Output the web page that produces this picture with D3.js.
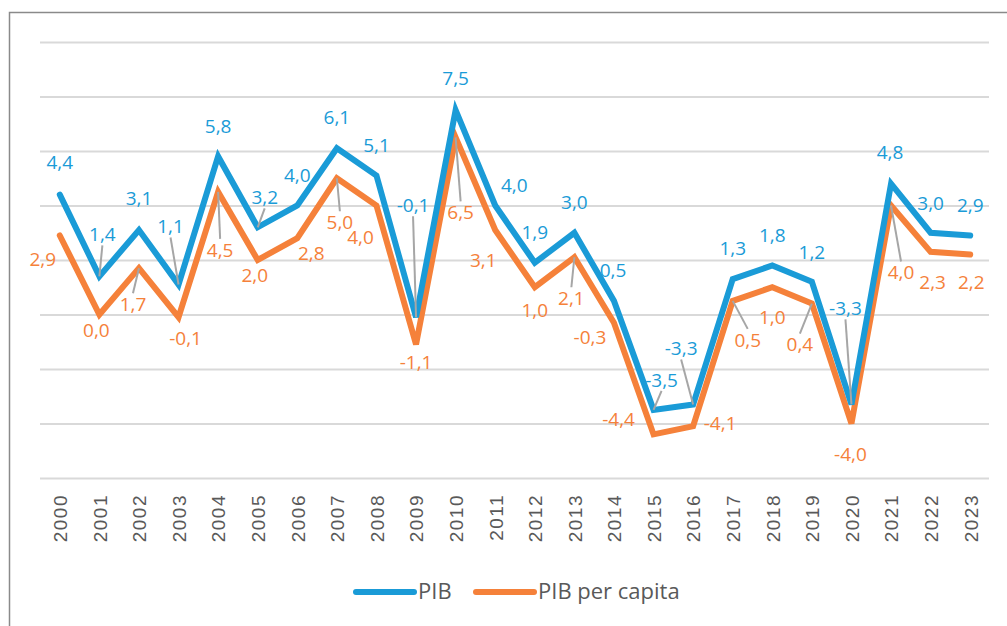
<!DOCTYPE html>
<html>
<head>
<meta charset="utf-8">
<script src="https://cdn.jsdelivr.net/npm/d3@7/dist/d3.min.js"></script>
<style>
  html, body { margin: 0; padding: 0; background: #fff; }
  svg { display: block; font-family: "Open Sans", "Noto Sans", sans-serif; }
</style>
</head>
<body>
<svg id="chart" width="1007" height="626"></svg>
<script>
// data
var years = ['2000', '2001', '2002', '2003', '2004', '2005', '2006', '2007', '2008', '2009', '2010', '2011',
  '2012', '2013', '2014', '2015', '2016', '2017', '2018', '2019', '2020', '2021', '2022', '2023'];
var pib = [4.4, 1.4, 3.1, 1.1, 5.8, 3.2, 4.0, 6.1, 5.1, -0.1, 7.5, 4.0,
  1.9, 3.0, 0.5, -3.5, -3.3, 1.3, 1.8, 1.2, -3.3, 4.8, 3.0, 2.9];
var pibPerCapita = [2.9, 0.0, 1.7, -0.1, 4.5, 2.0, 2.8, 5.0, 4.0, -1.1, 6.5, 3.1,
  1.0, 2.1, -0.3, -4.4, -4.1, 0.5, 1.0, 0.4, -4.0, 4.0, 2.3, 2.2];
var gridValues = [-6, -4, -2, 0, 2, 4, 6, 8, 10];
var seriesNames = ['PIB', 'PIB per capita'];

// label placement (dx, dy from the point to the label centre, leader line?)
var pibLabelPos = [
  [0, -32, 0], [3, -42, 1], [0, -32, 0], [-8, -58, 1], [0, -30, 0], [7, -30, 1],
  [0, -30, 0], [0, -31, 0], [0, -30, 0], [-3, -112, 1], [0, -32, 0], [19, -20, 0],
  [0, -31, 0], [0, -31, 0], [-1, -31, 0], [8, -30, 1], [-12, -56, 1], [0, -31, 0],
  [0, -30, 0], [0, -30, 0], [-6, -96, 1], [-1, -32, 0], [0, -30, 0], [0, -30, 0]
];
var pcLabelPos = [
  [-17, 24, 0], [-3, 16, 0], [-6, 36, 1], [7, 21, 0], [2, 58, 1], [-3, 15, 0],
  [14, 15, 0], [3, 44, 1], [-16, 32, 0], [0, 18, 0], [5, 75, 1], [-12, 30, 0],
  [0, 23, 0], [-3, 41, 1], [-24, 14, 0], [-35, -15, 0], [27, -3, 0], [15, 39, 1],
  [0, 30, 0], [-12, 41, 1], [-1, 31, 0], [10, 67, 1], [2, 30, 0], [1, 28, 0]
];

var colors = { pib: '#1a9bd7', pc: '#f5813a', grid: '#d9d9d9', text: '#595959', leader: '#a6a6a6' };

var svg = d3.select('#chart');

// outer frame
svg.append('rect')
  .attr('x', 9.5)
  .attr('y', 12.5)
  .attr('width', 1100)
  .attr('height', 700)
  .attr('fill', 'none')
  .attr('stroke', '#8a8a8a')
  .attr('stroke-width', 1.5);

var x = d3.scalePoint().domain(years).range([40, 990]).padding(0.5);
var y = d3.scaleLinear().domain([-6, 10]).range([478, 42]);

function fmt(v) {
  return d3.format('.1f')(v).replace('.', ',').replace('−', '-');
}

// horizontal grid
svg.append('g')
  .attr('class', 'grid')
  .attr('transform', 'translate(40,0)')
  .call(d3.axisLeft(y).tickValues(gridValues).tickSize(-949).tickFormat(''))
  .call(function (g) { g.select('.domain').remove(); })
  .selectAll('line')
  .attr('stroke', colors.grid)
  .attr('stroke-width', 2);

// year axis
var xAxis = svg.append('g')
  .attr('class', 'axis')
  .attr('transform', 'translate(0,494)')
  .call(d3.axisBottom(x).tickSize(0).tickPadding(0));

xAxis.select('.domain').remove();

xAxis.selectAll('text')
  .attr('transform', 'rotate(-90)')
  .attr('text-anchor', 'end')
  .attr('x', 0)
  .attr('y', 0)
  .attr('dy', '0.36em')
  .attr('fill', colors.text)
  .attr('font-size', '19px')
  .attr('letter-spacing', '1.5px');

var line = d3.line()
  .x(function (d, i) { return x(years[i]); })
  .y(function (d) { return y(d); });

function drawLeaders(values, pos) {
  var g = svg.append('g').attr('class', 'leaders');
  values.forEach(function (v, i) {
    if (!pos[i][2]) return;
    var px = x(years[i]), py = y(v);
    var lx = px + pos[i][0], ly = py + pos[i][1];
    var ey = pos[i][1] < 0 ? ly + 11 : ly - 11;
    g.append('line')
      .attr('x1', px)
      .attr('y1', py)
      .attr('x2', lx)
      .attr('y2', ey)
      .attr('stroke', colors.leader)
      .attr('stroke-width', 2);
  });
}

function drawLabels(values, pos, color) {
  svg.append('g')
    .attr('class', 'labels')
    .selectAll('text')
    .data(values)
    .join('text')
    .attr('x', function (d, i) { return x(years[i]) + pos[i][0]; })
    .attr('y', function (d, i) { return y(d) + pos[i][1]; })
    .attr('dy', '0.36em')
    .attr('text-anchor', 'middle')
    .attr('font-size', '19px')
    .attr('fill', color)
    .text(fmt);
}

svg.append('path')
  .datum(pibPerCapita)
  .attr('d', line)
  .attr('fill', 'none')
  .attr('stroke', colors.pc)
  .attr('stroke-width', 6)
  .attr('stroke-linejoin', 'miter')
  .attr('stroke-linecap', 'round');

svg.append('path')
  .datum(pib)
  .attr('d', line)
  .attr('fill', 'none')
  .attr('stroke', colors.pib)
  .attr('stroke-width', 6)
  .attr('stroke-linejoin', 'miter')
  .attr('stroke-linecap', 'round');

drawLeaders(pib, pibLabelPos);
drawLeaders(pibPerCapita, pcLabelPos);
drawLabels(pib, pibLabelPos, colors.pib);
drawLabels(pibPerCapita, pcLabelPos, colors.pc);

// legend
var legend = svg.append('g').attr('class', 'legend');
var legendItems = [
  { name: seriesNames[0], color: colors.pib, x: 356 },
  { name: seriesNames[1], color: colors.pc, x: 476 }
];
legendItems.forEach(function (d) {
  legend.append('line')
    .attr('x1', d.x)
    .attr('x2', d.x + 58)
    .attr('y1', 592)
    .attr('y2', 592)
    .attr('stroke', d.color)
    .attr('stroke-width', 6)
    .attr('stroke-linecap', 'round');
  legend.append('text')
    .attr('x', d.x + 62)
    .attr('y', 599)
    .attr('font-size', '22px')
    .attr('fill', colors.text)
    .text(d.name);
});
</script>
</body>
</html>
